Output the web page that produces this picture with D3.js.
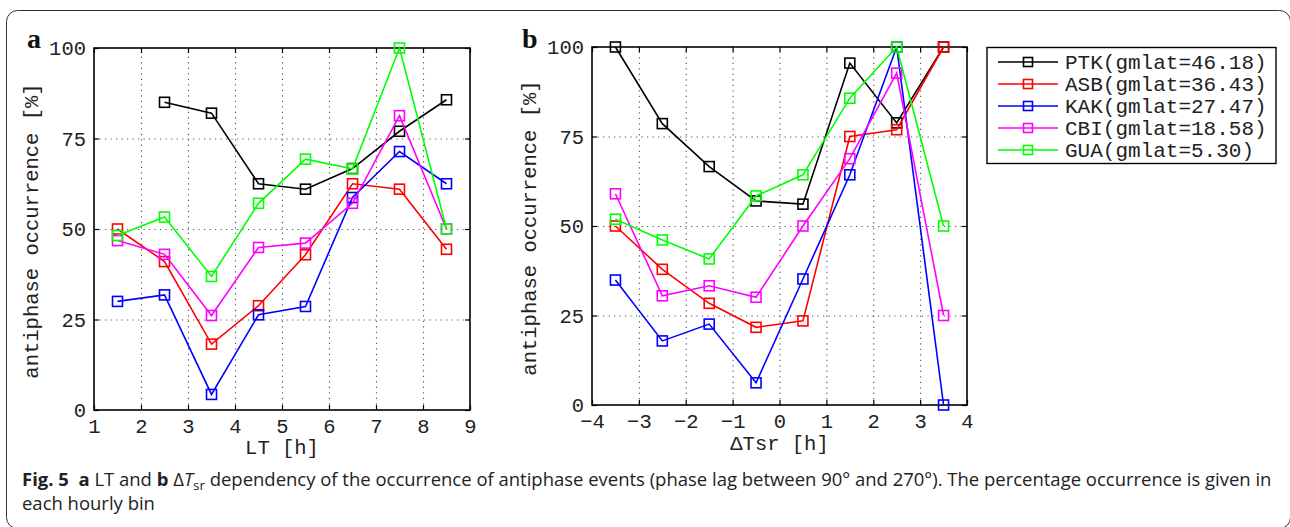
<!DOCTYPE html>
<html>
<head>
<meta charset="utf-8">
<script src="https://cdn.jsdelivr.net/npm/d3@7"></script>
<style>
  body { margin: 0; background: #fff; }
  svg { display: block; }
  .mono { font-family: "Courier New", "Liberation Mono", Cousine, monospace; fill: #222; }
</style>
</head>
<body>
<div id="fig"></div>
<script>
var W = 1290, H = 527;

// data
var ltHours = [1.5, 2.5, 3.5, 4.5, 5.5, 6.5, 7.5, 8.5];
var dtsrHours = [-3.5, -2.5, -1.5, -0.5, 0.5, 1.5, 2.5, 3.5];
var stationNames = ["PTK(gmlat=46.18)", "ASB(gmlat=36.43)", "KAK(gmlat=27.47)", "CBI(gmlat=18.58)", "GUA(gmlat=5.30)"];
var stationColors = ["#000000", "#ff0000", "#0000ff", "#ff00ff", "#00ff00"];

var ltPTK = [null, 85, 82, 62.5, 61, 66.7, 77, 85.7];
var ltASB = [50, 41, 18.2, 28.8, 42.9, 62.5, 61, 44.4];
var ltKAK = [30, 31.8, 4.3, 26.3, 28.6, 58.7, 71.4, 62.5];
var ltCBI = [46.8, 43, 26.1, 44.9, 46.1, 57.1, 81.3, 50];
var ltGUA = [48.2, 53.3, 36.9, 57.1, 69.3, 66.6, 100, 50];

var dtPTK = [100, 78.6, 66.6, 57, 56.1, 95.5, 78.8, 100];
var dtASB = [50, 37.9, 28.4, 21.7, 23.5, 75, 76.9, 100];
var dtKAK = [34.9, 17.9, 22.6, 6.2, 35.2, 64.3, 100, 0];
var dtCBI = [59, 30.5, 33.3, 30.1, 50, 68.8, 92.7, 25];
var dtGUA = [51.9, 46.1, 40.8, 58.4, 64.3, 85.7, 100, 50];

var ltXTicks = [1, 2, 3, 4, 5, 6, 7, 8, 9];
var dtXTicks = [-4, -3, -2, -1, 0, 1, 2, 3, 4];
var yTicks = [0, 25, 50, 75, 100];

var svg = d3.select("#fig").append("svg")
    .attr("width", W)
    .attr("height", H);

// outer rounded frame
svg.append("rect")
    .attr("x", 6.5).attr("y", 10.5)
    .attr("width", 1284).attr("height", 518)
    .attr("rx", 11)
    .attr("fill", "none")
    .attr("stroke", "#333")
    .attr("stroke-width", 1);

function drawPanel(opt) {
    var x = d3.scaleLinear().domain(opt.xDomain).range([opt.left, opt.right]);
    var y = d3.scaleLinear().domain([0, 100]).range([opt.bottom, opt.top]);
    var g = svg.append("g");
    var h = opt.bottom - opt.top, w = opt.right - opt.left;

    // dotted grid
    var gx = g.append("g")
        .attr("transform", "translate(0," + opt.bottom + ")")
        .call(d3.axisBottom(x).tickValues(opt.xTicks.slice(1, -1)).tickSize(-h).tickFormat(""));
    var gy = g.append("g")
        .attr("transform", "translate(" + opt.left + ",0)")
        .call(d3.axisLeft(y).tickValues([25, 50, 75]).tickSize(-w).tickFormat(""));
    [gx, gy].forEach(function(a) {
        a.select(".domain").remove();
        a.selectAll("line")
            .attr("stroke", "#555")
            .attr("stroke-width", 1.1)
            .attr("stroke-dasharray", "1.2,4.3");
    });

    // axes with inward ticks
    var ax = g.append("g")
        .attr("transform", "translate(0," + opt.bottom + ")")
        .call(d3.axisBottom(x).tickValues(opt.xTicks).tickSize(-5).tickSizeOuter(0).tickPadding(8.5)
              .tickFormat(function(d) { return d < 0 ? "\u2212" + Math.abs(d) : d; }));
    var ay = g.append("g")
        .attr("transform", "translate(" + opt.left + ",0)")
        .call(d3.axisLeft(y).tickValues(yTicks).tickSize(-5).tickSizeOuter(0).tickPadding(8));
    var at = g.append("g")
        .attr("transform", "translate(0," + opt.top + ")")
        .call(d3.axisTop(x).tickValues(opt.xTicks).tickSize(-5).tickSizeOuter(0).tickFormat(""));
    var ar = g.append("g")
        .attr("transform", "translate(" + opt.right + ",0)")
        .call(d3.axisRight(y).tickValues(yTicks).tickSize(-5).tickSizeOuter(0).tickFormat(""));
    [ax, ay, at, ar].forEach(function(a) {
        a.attr("font-family", null);
        a.select(".domain").remove();
        a.selectAll("line").attr("stroke", "#000").attr("stroke-width", 1.2);
        a.selectAll("text")
            .attr("class", "mono")
            .attr("font-size", 20.5)
            .attr("fill", "#222");
    });

    g.append("rect")
        .attr("x", opt.left).attr("y", opt.top)
        .attr("width", w).attr("height", h)
        .attr("fill", "none")
        .attr("stroke", "#000")
        .attr("stroke-width", 1.6);

    var line = d3.line()
        .defined(function(d) { return d[1] != null; })
        .x(function(d) { return x(d[0]); })
        .y(function(d) { return y(d[1]); });

    opt.series.forEach(function(vals, i) {
        var pts = opt.xs.map(function(xv, j) { return [xv, vals[j]]; });
        g.append("path")
            .datum(pts)
            .attr("d", line)
            .attr("fill", "none")
            .attr("stroke", stationColors[i])
            .attr("stroke-width", 1.6);
        g.selectAll(null)
            .data(pts.filter(function(d) { return d[1] != null; }))
            .enter()
            .append("rect")
            .attr("x", function(d) { return x(d[0]) - 5; })
            .attr("y", function(d) { return y(d[1]) - 5; })
            .attr("width", 10).attr("height", 10)
            .attr("fill", "none")
            .attr("stroke", stationColors[i])
            .attr("stroke-width", 1.6);
    });

    g.append("text")
        .attr("class", "mono")
        .attr("font-size", 20.5)
        .attr("text-anchor", "middle")
        .attr("transform", "translate(" + opt.yTitleX + "," + opt.yTitleY + ") rotate(-90)")
        .text("antiphase occurrence [%]");

    g.append("text")
        .attr("class", "mono")
        .attr("font-size", 20.5)
        .attr("text-anchor", "middle")
        .attr("x", (opt.left + opt.right) / 2)
        .attr("y", opt.xTitleY)
        .text(opt.xTitle);

    g.append("text")
        .attr("x", opt.labelX).attr("y", 48)
        .attr("font-family", "Liberation Serif, serif")
        .attr("font-weight", "bold")
        .attr("font-size", 28)
        .attr("fill", "#111")
        .text(opt.label);
}

drawPanel({
    left: 94, right: 470, top: 48, bottom: 410,
    xDomain: [1, 9], xTicks: ltXTicks, xs: ltHours,
    series: [ltPTK, ltASB, ltKAK, ltCBI, ltGUA],
    xTitle: "LT [h]", xTitleY: 454,
    yTitleX: 38, yTitleY: 231,
    label: "a", labelX: 27
});

drawPanel({
    left: 592, right: 967, top: 47, bottom: 405,
    xDomain: [-4, 4], xTicks: dtXTicks, xs: dtsrHours,
    series: [dtPTK, dtASB, dtKAK, dtCBI, dtGUA],
    xTitle: "\u0394Tsr [h]", xTitleY: 450,
    yTitleX: 536, yTitleY: 228,
    label: "b", labelX: 522
});

// legend
var lg = svg.append("g");
lg.append("rect")
    .attr("x", 987).attr("y", 47.5)
    .attr("width", 289).attr("height", 116)
    .attr("fill", "#fff")
    .attr("stroke", "#000")
    .attr("stroke-width", 1.4);
var rowY = d3.scalePoint().domain(stationNames).range([62, 150]);
stationNames.forEach(function(name, i) {
    var yy = rowY(name);
    lg.append("line")
        .attr("x1", 998).attr("x2", 1058)
        .attr("y1", yy).attr("y2", yy)
        .attr("stroke", stationColors[i])
        .attr("stroke-width", 1.6);
    lg.append("rect")
        .attr("x", 1028 - 4.5).attr("y", yy - 4.5)
        .attr("width", 9).attr("height", 9)
        .attr("fill", "none")
        .attr("stroke", stationColors[i])
        .attr("stroke-width", 1.6);
    lg.append("text")
        .attr("class", "mono")
        .attr("font-size", 21)
        .attr("x", 1065).attr("y", yy + 7)
        .text(name);
});

// caption: size the font so line 1 fills the width like the original
var cap = svg.append("g")
    .attr("font-family", "'Open Sans', 'Noto Sans', sans-serif")
    .attr("fill", "#222");
var t1 = cap.append("text")
    .attr("x", 22).attr("y", 486)
    .attr("font-size", 16);
t1.append("tspan").attr("font-weight", "bold").text("Fig. 5");
t1.append("tspan").attr("font-weight", "bold").text("\u00a0\u00a0a");
t1.append("tspan").text(" LT and ");
t1.append("tspan").attr("font-weight", "bold").text("b");
t1.append("tspan").text(" \u0394");
t1.append("tspan").attr("font-style", "italic").text("T");
var sub = t1.append("tspan").attr("font-size", 11.5).attr("dy", 4).text("sr");
t1.append("tspan").attr("dy", -4).text(" dependency of the occurrence of antiphase events (phase lag between 90\u00b0 and 270\u00b0). The percentage occurrence is given in");
var fs = 16 * 1250 / t1.node().getComputedTextLength();
t1.attr("font-size", fs);
sub.attr("font-size", fs * 0.72);
cap.append("text")
    .attr("x", 22).attr("y", 510)
    .attr("font-size", fs)
    .text("each hourly bin");
</script>
</body>
</html>
